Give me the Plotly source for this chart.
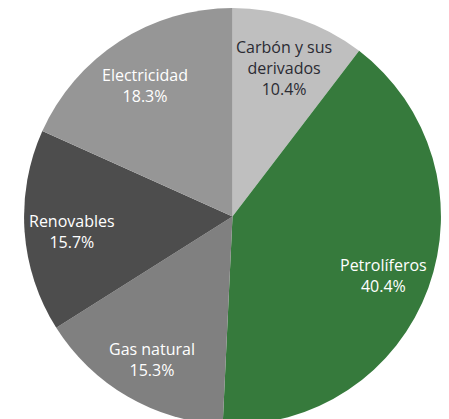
import math
import plotly.graph_objects as go

labels = ['Carbón y sus<br>derivados', 'Petrolíferos', 'Gas natural', 'Renovables', 'Electricidad']
shares = [10.4, 40.4, 15.3, 15.7, 18.3]
colors = ['#bfbfbf', '#367a3c', '#808080', '#4d4d4d', '#969696']
text_colors = ['#2b2b33', '#ffffff', '#ffffff', '#ffffff', '#ffffff']

W, H = 449, 419
dom_x = [0.035, 0.965]
dom_y = [0.005, 1.0]

fig = go.Figure(go.Pie(
    labels=labels, values=shares,
    sort=False, direction='clockwise', rotation=0,
    marker=dict(colors=colors, line=dict(width=0)),
    textinfo='none', domain=dict(x=dom_x, y=dom_y),
    hoverinfo='label+value'))

# labels placed along each slice's mid angle, out towards the rim
cx = sum(dom_x) / 2
cy = sum(dom_y) / 2
r_px = min((dom_x[1] - dom_x[0]) * W, (dom_y[1] - dom_y[0]) * H) / 2
frac = 0.77
total = sum(shares)
start = 0
for lab, val, tc in zip(labels, shares, text_colors):
    mid = (start + val / 2) / total * 2 * math.pi
    start += val
    fig.add_annotation(
        x=cx + frac * r_px * math.sin(mid) / W,
        y=cy + frac * r_px * math.cos(mid) / H,
        xref='paper', yref='paper', xanchor='center', yanchor='middle',
        yshift=-4, showarrow=False,
        text=f'{lab}<br>{val:.1f}%',
        font=dict(family='Open Sans', size=16, color=tc))

fig.update_layout(width=W, height=H, showlegend=False,
    margin=dict(l=0, r=0, t=0, b=0),
    paper_bgcolor='white', plot_bgcolor='white')

fig.write_html('out.html')
